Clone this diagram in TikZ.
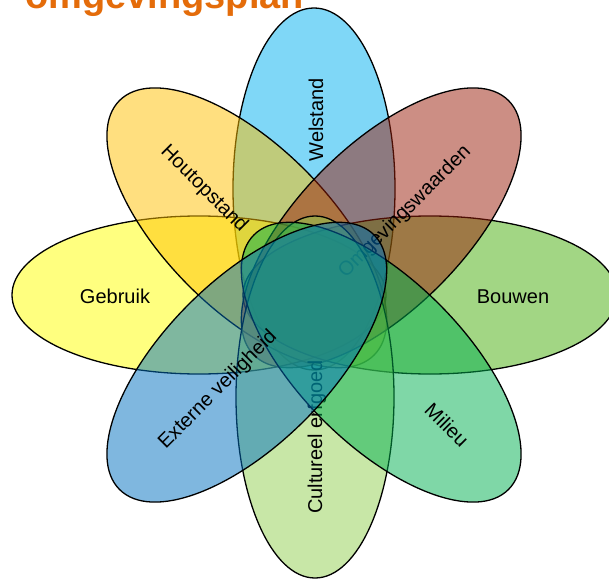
\documentclass[tikz,border=0pt]{standalone}
\usepackage{fontspec}
\setmainfont{Liberation Sans}
\definecolor{cWel}{RGB}{0,176,240}
\definecolor{cGeb}{RGB}{255,255,0}
\definecolor{cHout}{RGB}{255,192,0}
\definecolor{cBouw}{RGB}{70,175,10}
\definecolor{cOmg}{RGB}{155,30,10}
\definecolor{cCult}{RGB}{146,208,80}
\definecolor{cMil}{RGB}{0,176,80}
\definecolor{cExt}{RGB}{0,112,192}
\definecolor{cTitle}{RGB}{228,108,10}
\tikzset{
  petal/.style={draw=black, line width=1.3pt, fill opacity=0.5},
  petaltext/.style={font=\fontsize{20}{24}\selectfont, text=black, inner sep=0pt}
}
\begin{document}
\begin{tikzpicture}[x=1pt,y=1pt]
\useasboundingbox (0,0) rectangle (609,579);
\fill[white] (0,0) rectangle (609,579);
\node[anchor=base west, font=\fontsize{38}{40}\selectfont\bfseries, text=cTitle, inner sep=0pt] (title) at (25,570) {omgevingsplan};
% Welstand
\draw[petal, fill=cWel] (314,390) ellipse [x radius=81, y radius=181];
\node[petaltext, rotate=90] (lwel) at (316,459) {Welstand};
% Gebruik
\draw[petal, fill=cGeb] (199,284) ellipse [x radius=187, y radius=79];
\node[petaltext] (lgeb) at (115,283) {Gebruik};
% Houtopstand
\draw[petal, fill=cHout, rotate around={-45:(246.8,351.2)}] (246.8,351.2) ellipse [x radius=180, y radius=82];
\node[petaltext, rotate=-45] (lhout) at (204,390) {Houtopstand};
% Bouwen
\draw[petal, fill=cBouw] (430,284) ellipse [x radius=187, y radius=79];
\node[petaltext] (lbouw) at (513,282) {Bouwen};
% Omgevingswaarden
\draw[petal, fill=cOmg, rotate around={45:(381.2,351.2)}] (381.2,351.2) ellipse [x radius=180, y radius=82];
\node[petaltext, rotate=45] (lomg) at (405,367) {Omgevingswaarden};
% Cultureel erfgoed
\draw[petal, fill=cCult] (315,182) ellipse [x radius=79, y radius=181];
\node[petaltext, rotate=90] (lcult) at (317,142) {Cultureel erfgoed};
% Milieu
\draw[petal, fill=cMil, rotate around={-45:(381.2,216.8)}] (381.2,216.8) ellipse [x radius=180, y radius=82];
\node[petaltext, rotate=-45] (lmil) at (447,154) {Milieu};
% Externe veiligheid
\draw[petal, fill=cExt, rotate around={45:(246.8,216.8)}] (246.8,216.8) ellipse [x radius=180, y radius=82];
\node[petaltext, rotate=45] (lext) at (218,189) {Externe veiligheid};
\end{tikzpicture}
\end{document}
